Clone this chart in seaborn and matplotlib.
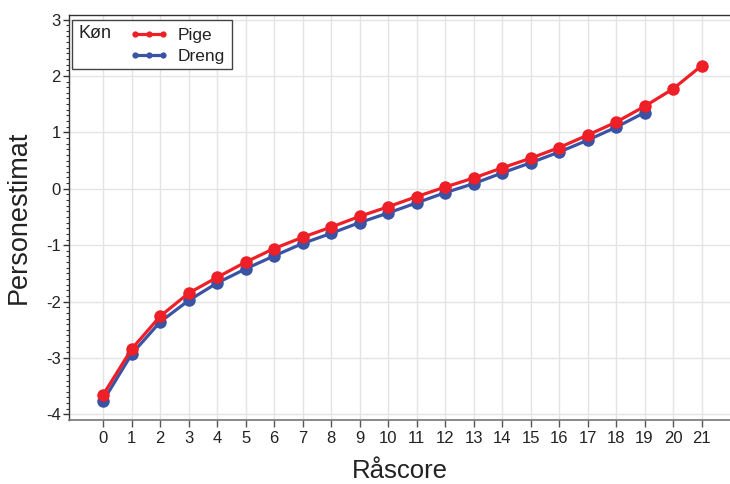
import numpy as np
import pandas as pd
import matplotlib
matplotlib.use("Agg")
import matplotlib.pyplot as plt
import seaborn as sns
from matplotlib.lines import Line2D
from matplotlib.patches import Rectangle
from matplotlib.ticker import AutoMinorLocator, MultipleLocator

raascore_pige = list(range(22))
pige = [-3.65, -2.84, -2.26, -1.85, -1.57, -1.30, -1.06, -0.86, -0.68, -0.49, -0.32,
        -0.14, 0.03, 0.19, 0.37, 0.54, 0.73, 0.95, 1.18, 1.46, 1.77, 2.18]
raascore_dreng = list(range(20))
dreng = [-3.76, -2.93, -2.36, -1.98, -1.67, -1.42, -1.19, -0.97, -0.79, -0.60, -0.43,
         -0.25, -0.07, 0.09, 0.28, 0.46, 0.65, 0.86, 1.09, 1.35]
groups = ["Pige", "Dreng"]
colors = {"Pige": "#ee1f26", "Dreng": "#3a53a4"}

df = pd.concat([
    pd.DataFrame({"Råscore": raascore_pige, "Personestimat": pige, "Køn": "Pige"}),
    pd.DataFrame({"Råscore": raascore_dreng, "Personestimat": dreng, "Køn": "Dreng"}),
])

sns.set_style("white")
plt.rcParams["font.family"] = ["Liberation Sans", "DejaVu Sans"]
plt.rcParams["axes.unicode_minus"] = False

fig = plt.figure(figsize=(7.30, 4.84), dpi=100)
ax = fig.add_axes([69 / 730, (484 - 419.5) / 484, 1 - 69 / 730, (419.5 - 15) / 484])

for g in ["Dreng", "Pige"]:
    sub = df[df["Køn"] == g]
    sns.lineplot(data=sub, x="Råscore", y="Personestimat", color=colors[g],
                 marker="o", markersize=9, markeredgewidth=0, linewidth=2.3,
                 ax=ax, legend=False, zorder=3 if g == "Dreng" else 4)

ax.set_xlim(-1.2, 22.0)
ax.set_ylim(-4.09, 3.08)
ax.set_xticks(range(22))
ax.yaxis.set_major_locator(MultipleLocator(1))
ax.yaxis.set_minor_locator(AutoMinorLocator(10))
ax.grid(True, which="major", color="#e4e4e4", linewidth=1.0)
ax.set_axisbelow(True)

for s in ["left", "top"]:
    ax.spines[s].set_color("#333333")
    ax.spines[s].set_linewidth(1.0)
ax.spines["bottom"].set_color("#777777")
ax.spines["bottom"].set_linewidth(1.2)
ax.spines["right"].set_visible(False)

ax.tick_params(axis="x", which="major", direction="out", length=5, width=1,
               color="#555555", labelsize=12, pad=3, bottom=True, labelcolor="#222222")
ax.tick_params(axis="y", which="major", direction="out", length=4, width=1,
               color="#333333", labelsize=12, pad=2, left=True, labelcolor="#222222")
ax.tick_params(axis="y", which="minor", direction="out", length=2, width=0.8,
               color="#333333", left=True)

ax.set_xlabel("Råscore", fontsize=18.5, labelpad=10, color="#222222")
ax.set_ylabel("Personestimat", fontsize=19.5, labelpad=10, color="#222222")

# legend frame, title and entries
x0, y0 = ax.transAxes.inverted().transform(fig.transFigure.transform((72 / 730, 1 - 69 / 484)))
x1, y1 = ax.transAxes.inverted().transform(fig.transFigure.transform((232 / 730, 1 - 20 / 484)))
ax.add_patch(Rectangle((x0, y0), x1 - x0, y1 - y0, transform=ax.transAxes,
                       facecolor="white", edgecolor="#444444", linewidth=1.0, zorder=5))
fig.text(79 / 730, 1 - 34 / 484, "Køn", fontsize=13, va="center", ha="left", zorder=6,
         color="#222222")
handles = [Line2D([0], [0], color=colors[g], lw=2.3, marker="o", markersize=4.5,
                  markeredgewidth=0) for g in groups]
leg = ax.legend(handles, groups, loc="upper left", frameon=False, numpoints=3,
                handlelength=2.2, handletextpad=0.55, labelspacing=0.3, fontsize=12.5,
                bbox_to_anchor=(118 / 730, 1 - 16 / 484), bbox_transform=fig.transFigure,
                borderpad=0.2)
for t in leg.get_texts():
    t.set_color("#222222")
leg.set_zorder(6)

fig.savefig("out.png", dpi=100)
